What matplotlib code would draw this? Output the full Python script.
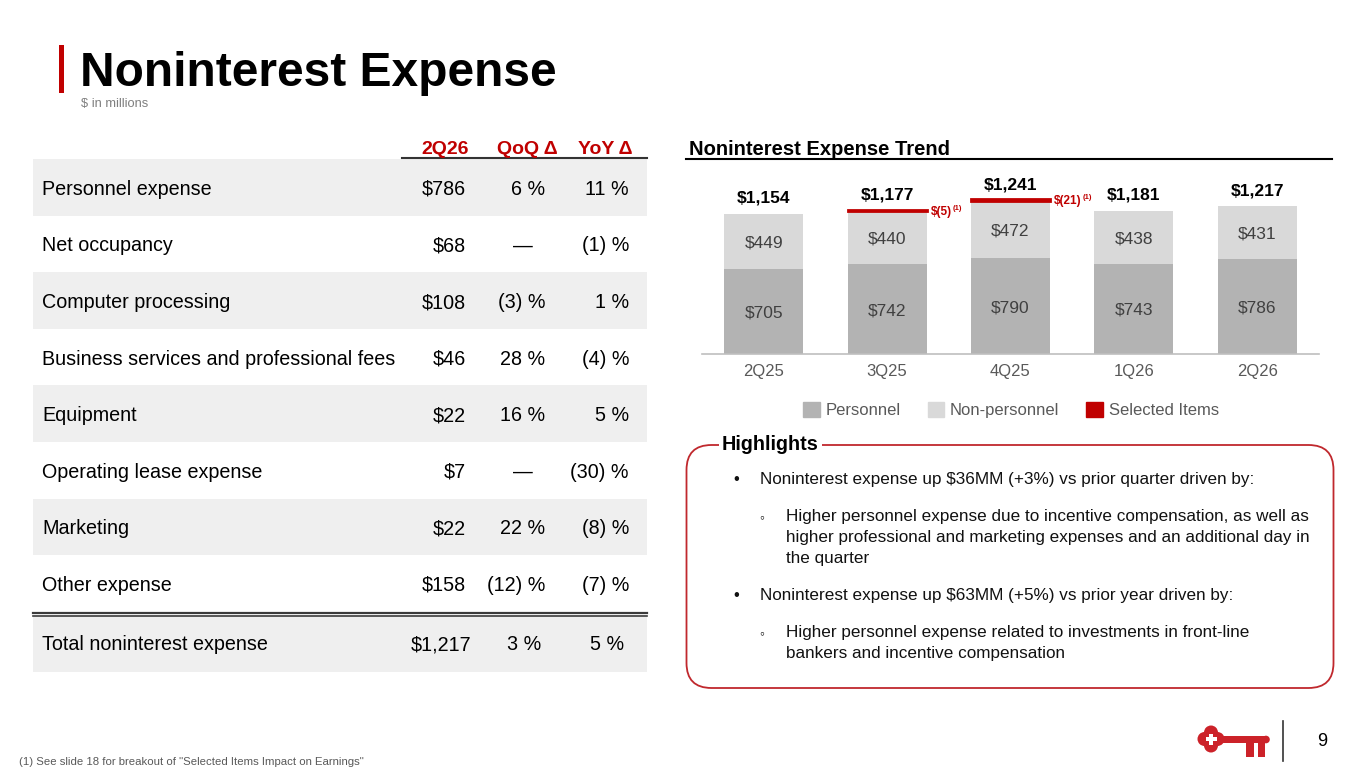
import matplotlib.pyplot as plt
from matplotlib.patches import Rectangle, FancyBboxPatch, Circle
import numpy as np

plt.rcParams['font.family'] = ['Liberation Sans', 'DejaVu Sans']

# ---- table data ($ in millions) ----
columns = ['2Q26', 'QoQ Δ', 'YoY Δ']
rows = ['Personnel expense', 'Net occupancy', 'Computer processing',
        'Business services and professional fees', 'Equipment',
        'Operating lease expense', 'Marketing', 'Other expense']
amount = ['$786', '$68', '$108', '$46', '$22', '$7', '$22', '$158']
qoq = ['6 %', '—', '(3) %', '28 %', '16 %', '—', '22 %', '(12) %']
yoy = ['11 %', '(1) %', '1 %', '(4) %', '5 %', '(30) %', '(8) %', '(7) %']
total_row = ['Total noninterest expense', '$1,217', '3 %', '5 %']

# ---- chart data ----
quarters = ['2Q25', '3Q25', '4Q25', '1Q26', '2Q26']
personnel = [705, 742, 790, 743, 786]
non_personnel = [449, 440, 472, 438, 431]
selected = [0, 5, 21, 0, 0]
totals = [1154, 1177, 1241, 1181, 1217]

highlights = [
    (0, ['Noninterest expense up $36MM (+3%) vs prior quarter driven by:']),
    (1, ['Higher personnel expense due to incentive compensation, as well as',
         'higher professional and marketing expenses and an additional day in',
         'the quarter']),
    (0, ['Noninterest expense up $63MM (+5%) vs prior year driven by:']),
    (1, ['Higher personnel expense related to investments in front-line',
         'bankers and incentive compensation']),
]

RED = '#C00000'
GRAY_TXT = '#595959'
C_PERS = '#B3B3B3'
C_NONP = '#D9D9D9'
VA = 'center_baseline'

W, H = 1365, 768
fig = plt.figure(figsize=(W / 100, H / 100), dpi=100)

# background axes in pixel units (y down)
bg = fig.add_axes([0, 0, 1, 1])
bg.set_xlim(0, W)
bg.set_ylim(H, 0)
bg.axis('off')

# title
bg.add_patch(Rectangle((59, 45), 5, 48, color=RED, lw=0))
bg.text(80, 86, 'Noninterest Expense', fontsize=34.5, fontweight='bold', va='baseline')
bg.text(81, 103, '$ in millions', fontsize=9.3, color='#7F7F7F', va=VA)

# ---- table ----
tx0, tx1 = 33, 647
for xh, lab in zip([445, 527, 605], columns):
    bg.text(xh, 148, lab, fontsize=14, fontweight='bold', color=RED, ha='center', va=VA)
bg.plot([402, tx1], [158, 158], color='#333333', lw=1.5)

fs = 14.2
row_top, row_h = 159, 56.6
for i, lab in enumerate(rows):
    y0 = row_top + i * row_h
    if i % 2 == 0:
        bg.add_patch(Rectangle((tx0, y0), tx1 - tx0, row_h, color='#EFEFEF', lw=0))
    yc = y0 + row_h / 2
    bg.text(42, yc, lab, fontsize=fs, va=VA)
    bg.text(466, yc, amount[i], fontsize=fs, va=VA, ha='right')
    if qoq[i] == '—':
        bg.text(523, yc, qoq[i], fontsize=fs, va=VA, ha='center')
    else:
        bg.text(545, yc, qoq[i], fontsize=fs, va=VA, ha='right')
    bg.text(629, yc, yoy[i], fontsize=fs, va=VA, ha='right')

bg.plot([tx0, tx1], [612.5, 612.5], color='#3A3A3A', lw=1.6)
bg.plot([tx0, tx1], [616, 616], color='#3A3A3A', lw=1.2)
bg.add_patch(Rectangle((tx0, 617), tx1 - tx0, 55, color='#EFEFEF', lw=0))
bg.text(42, 643, total_row[0], fontsize=fs, va=VA)
bg.text(471, 643, total_row[1], fontsize=fs, va=VA, ha='right')
bg.text(541, 643, total_row[2], fontsize=fs, va=VA, ha='right')
bg.text(624, 643, total_row[3], fontsize=fs, va=VA, ha='right')

# ---- chart ----
bg.text(689, 155, 'Noninterest Expense Trend', fontsize=14.5, fontweight='bold', va='baseline')
bg.plot([686, 1332], [159, 159], color='black', lw=1.5)

L, R, base, top = 702, 1319, 354, 170
k = 0.1212  # px per $MM
ax = fig.add_axes([L / W, 1 - base / H, (R - L) / W, (base - top) / H])
ax.set_facecolor('none')
ax.set_ylim(0, (base - top) / k)
ax.set_xlim(-0.5, len(quarters) - 0.5)

x = np.arange(len(quarters))
p = np.array(personnel)
n = np.array(non_personnel)
s = np.array(selected)
bw = 0.64
ax.bar(x, p, width=bw, color=C_PERS, lw=0)
ax.bar(x, n, bottom=p, width=bw, color=C_NONP, lw=0)
idx = np.nonzero(s)[0]
ax.bar(x[idx], s[idx], bottom=(p + n)[idx], width=bw, color=RED, edgecolor=RED, lw=2.0)

for i in x:
    ax.text(i, p[i] / 2, f'${p[i]}', ha='center', va=VA, fontsize=12.5, color='#404040')
    ax.text(i, p[i] + n[i] / 2, f'${n[i]}', ha='center', va=VA, fontsize=12.5, color='#404040')
    ax.annotate(f'${totals[i]:,}', xy=(i, p[i] + n[i]), xytext=(0, 12.5),
                textcoords='offset points', ha='center', va=VA,
                fontsize=12.5, fontweight='bold')
for i in idx:
    t = ax.annotate(f'$({s[i]})', xy=(i + bw / 2, p[i] + n[i] + s[i] / 2), xytext=(3, -1),
                    textcoords='offset points', ha='left', va='center',
                    fontsize=8.5, fontweight='bold', color=RED)
    ax.annotate('(1)', xy=(1, 1), xycoords=t, xytext=(0.5, 0.5), textcoords='offset points',
                ha='left', va='top', fontsize=5.5, fontweight='bold', color=RED)

ax.set_xticks(x, quarters)
ax.tick_params(axis='x', length=0, labelsize=12, labelcolor=GRAY_TXT, pad=7)
ax.set_yticks([])
for sp in ['left', 'right', 'top']:
    ax.spines[sp].set_visible(False)
ax.spines['bottom'].set_color('#BFBFBF')
ax.spines['bottom'].set_linewidth(1.2)

handles = [Rectangle((0, 0), 1, 1, color=C_PERS), Rectangle((0, 0), 1, 1, color=C_NONP),
           Rectangle((0, 0), 1, 1, color=RED)]
ax.legend(handles, ['Personnel', 'Non-personnel', 'Selected Items'], loc='center',
          bbox_to_anchor=(1011 / W, 1 - 410 / H), bbox_transform=fig.transFigure,
          ncol=3, frameon=False, fontsize=12, handlelength=1.0, handleheight=1.0,
          handletextpad=0.35, columnspacing=1.6, labelcolor=GRAY_TXT)

# ---- highlights box ----
bg.add_patch(FancyBboxPatch((686.5, 445), 647, 243, boxstyle='round,pad=0,rounding_size=25',
                            facecolor='none', edgecolor='#C0282D', lw=1.3))
bg.text(722, 445, 'Highlights', fontsize=14.2, fontweight='bold', va='center',
        bbox=dict(boxstyle='square,pad=0.15', facecolor='white', edgecolor='none'))

y = 478
for level, lines in highlights:
    if level == 0:
        bg.text(736, y, '•', fontsize=12, va=VA, ha='center', color='#111111')
        tx = 760
    else:
        bg.text(762, y, '◦', fontsize=10, va=VA, ha='center', color='#111111')
        tx = 786
    for j, line in enumerate(lines):
        bg.text(tx, y + j * 20.5, line, fontsize=12.3, va=VA, color='#111111')
    y += (len(lines) - 1) * 20.5 + 37.5

# footnote
bg.text(19, 761, '(1) See slide 18 for breakout of "Selected Items Impact on Earnings"',
        fontsize=8.2, color=GRAY_TXT, va=VA)

# logo + page number
KEY = '#CC2229'
cx, cy = 1211, 739
for dx, dy in [(-6.5, 0), (6.5, 0), (0, -6.5), (0, 6.5)]:
    bg.add_patch(Circle((cx + dx, cy + dy), 7.0, color=KEY, lw=0))
bg.add_patch(Rectangle((cx - 6.5, cy - 6.5), 13, 13, color=KEY, lw=0))
bg.add_patch(Rectangle((cx - 2, cy - 5.5), 4, 11, color='white', lw=0))
bg.add_patch(Rectangle((cx - 5.5, cy - 2), 11, 4, color='white', lw=0))
bg.add_patch(Rectangle((1222, 735.7), 44, 7.6, color=KEY, lw=0))
bg.add_patch(Circle((1266, 739.5), 3.8, color=KEY, lw=0))
bg.add_patch(Rectangle((1246.4, 743), 7.2, 13.5, color=KEY, lw=0))
bg.add_patch(Rectangle((1257.5, 743), 7.2, 13.5, color=KEY, lw=0))
bg.plot([1283, 1283], [721, 761], color='#333333', lw=1.2)
bg.text(1322, 740, '9', fontsize=13, ha='center', va=VA)

fig.savefig('out.png', dpi=100)
